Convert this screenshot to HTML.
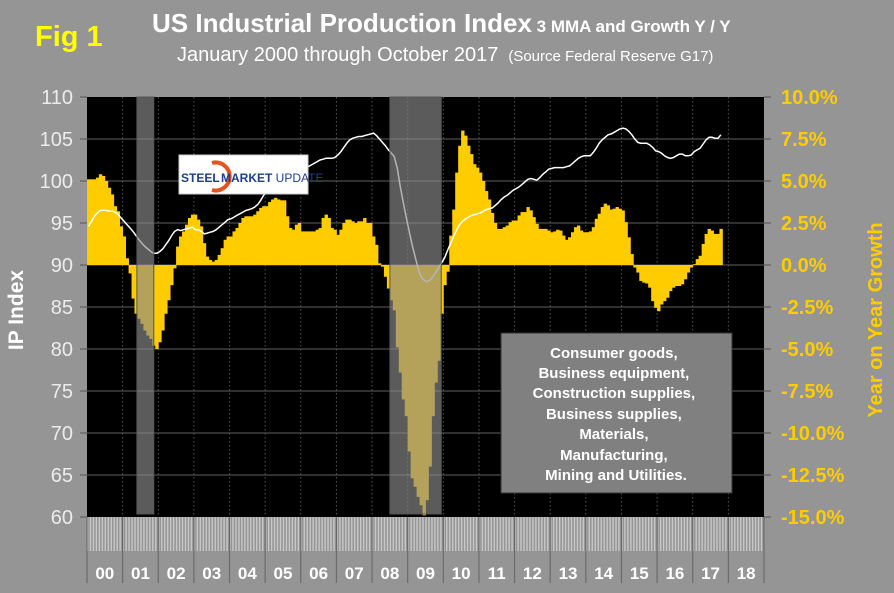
<!DOCTYPE html>
<html><head><meta charset="utf-8"><style>
body{margin:0;background:#959595;}
svg{display:block;font-family:"Liberation Sans",Arial,sans-serif;}
</style></head><body>
<svg id="chart" width="894" height="593" viewBox="0 0 894 593">
<rect x="0" y="0" width="894" height="593" fill="#959595"/>
<text x="35" y="46" fill="#ffff00" font-size="29" font-weight="bold">Fig 1</text>
<text x="152" y="32" fill="#ffffff" font-weight="bold"><tspan font-size="26">US Industrial Production Index</tspan><tspan font-size="17"> 3 MMA and Growth Y / Y</tspan></text>
<text x="177" y="61" fill="#ffffff"><tspan font-size="20">January 2000 through October 2017</tspan><tspan font-size="15" dx="10">(Source Federal Reserve G17)</tspan></text>
<rect x="87" y="97" width="677" height="420" fill="#000"/>
<g id="grid"></g>
<g id="bars"></g>
<g id="line"></g>
<g id="shade"></g>
<g id="axes"></g>
<g>
<rect x="179" y="155" width="129" height="39" fill="#fff" stroke="#ccc"/>
<path d="M212 163 A14 14 0 1 1 212 190" fill="none" stroke="#e8501c" stroke-width="4"/>
<text x="181" y="182" font-size="12" font-weight="bold" fill="#1d3f8c">STEEL</text>
<text x="221" y="182" font-size="12" fill="#1d3f8c"><tspan font-weight="bold">MARKET</tspan> UPDATE</text>
</g>
<g>
<rect x="501" y="333" width="231" height="160" fill="#808080" stroke="#333" stroke-width="1"/>
<text x="616" y="358" text-anchor="middle" fill="#fff" font-size="15" font-weight="bold">
<tspan x="616" y="358">Consumer goods,</tspan>
<tspan x="616" y="378">Business equipment,</tspan>
<tspan x="616" y="398">Construction supplies,</tspan>
<tspan x="616" y="419">Business supplies,</tspan>
<tspan x="616" y="439">Materials,</tspan>
<tspan x="616" y="460">Manufacturing,</tspan>
<tspan x="616" y="480">Mining and Utilities.</tspan>
</text>
</g>
<text transform="translate(23,310) rotate(-90)" text-anchor="middle" fill="#fff" font-size="21" font-weight="bold">IP Index</text>
<text transform="translate(882,320) rotate(-90)" text-anchor="middle" fill="#ffcc00" font-size="20" font-weight="bold">Year on Year Growth</text>
</svg>
<script>
const yearLabels=["00","01","02","03","04","05","06","07","08","09","10","11","12","13","14","15","16","17","18"];
const leftTicks=[60,65,70,75,80,85,90,95,100,105,110];
const rightTicks=[-15,-12.5,-10,-7.5,-5,-2.5,0,2.5,5,7.5,10];
const recessions=[[16.8,22.5],[102,119.3]];
const growth=[
5.1,5.1,5.1,5.2,5.4,5.3,5.0,4.6,4.2,3.5,3.2,2.3,
1.7,0.4,-0.5,-2.0,-2.9,-3.2,-3.5,-3.9,-4.2,-4.4,-4.8,-5.0,
-4.6,-3.9,-2.9,-2.1,-1.2,-0.2,1.1,1.7,2.0,2.4,2.8,3.0,
3.0,2.7,2.3,1.3,0.5,0.3,0.2,0.3,0.6,1.0,1.5,1.7,
1.7,2.0,2.2,2.5,2.8,2.9,2.9,2.9,3.0,3.2,3.4,3.5,
3.5,3.75,3.9,4.0,3.9,3.85,3.85,2.9,2.2,2.1,2.4,2.5,
2.0,2.0,2.0,2.0,2.0,2.1,2.2,2.8,3.0,2.8,2.2,2.1,
1.8,2.1,2.5,2.7,2.7,2.6,2.5,2.6,2.6,2.8,2.5,2.5,
1.7,1.2,0.1,-0.1,-0.7,-1.4,-2.1,-2.7,-4.9,-6.4,-8.0,-9.0,
-11.1,-12.7,-13.2,-13.8,-14.3,-14.9,-14.0,-12.0,-9.0,-7.0,-5.7,-2.9,
-1.2,-0.4,1.75,3.3,5.5,7.1,8.0,7.7,7.1,6.6,6.0,5.8,
5.5,5.0,4.4,3.9,3.1,2.5,2.15,2.15,2.25,2.35,2.55,2.65,
2.65,2.95,3.15,3.15,3.45,3.25,2.85,2.45,2.15,2.15,2.15,2.05,
1.95,2.0,2.1,2.05,1.75,1.5,1.65,1.95,2.25,2.35,2.05,1.95,
1.95,2.0,2.25,2.75,3.05,3.45,3.65,3.55,3.3,3.35,3.45,3.35,
3.25,2.55,1.65,0.65,-0.15,-0.45,-0.95,-1.05,-1.1,-1.35,-2.15,-2.55,
-2.75,-2.35,-2.15,-1.95,-1.55,-1.35,-1.25,-1.25,-1.15,-0.85,-0.45,-0.15,
0.05,0.35,0.55,1.25,1.85,2.15,2.05,1.85,1.85,2.15];
const ipIndex=[
94.6,95.2,95.8,96.2,96.5,96.5,96.5,96.4,96.4,96.3,96.0,95.6,
95.2,94.8,94.4,94.0,93.5,93.0,92.6,92.2,91.9,91.6,91.4,91.4,
91.6,91.9,92.4,92.9,93.5,94.0,94.2,94.1,94.2,94.3,94.4,94.5,
94.2,94.2,94.0,93.7,93.8,93.9,94.0,94.2,94.5,94.8,95.1,95.4,
95.5,95.7,95.9,96.1,96.3,96.5,96.6,96.7,96.9,97.2,97.7,98.3,
98.7,99.2,99.5,99.8,100.1,100.4,100.6,100.7,100.8,101.0,101.2,101.4,
101.5,101.6,101.7,101.9,102.1,102.3,102.5,102.6,102.7,102.7,102.7,102.8,
103.1,103.5,104.0,104.5,104.9,105.1,105.2,105.3,105.3,105.4,105.5,105.6,
105.7,105.4,105.0,104.6,104.2,103.7,103.3,102.9,101.5,99.3,97.5,95.7,
94.0,92.4,91.0,89.6,88.6,88.2,88.0,88.2,88.6,89.2,89.7,90.3,
90.9,91.8,92.6,93.4,94.2,94.8,95.2,95.5,95.7,95.9,96.0,96.1,
96.2,96.4,96.6,96.7,96.8,97.1,97.4,97.8,98.1,98.3,98.6,98.9,
99.1,99.3,99.6,99.9,100.2,100.3,100.2,100.1,100.4,100.8,101.1,101.4,
101.5,101.6,101.6,101.6,101.6,101.7,101.8,102.1,102.4,102.7,102.9,103.0,
103.0,103.0,103.4,103.9,104.5,104.9,105.2,105.5,105.6,105.8,106.0,106.2,
106.3,106.2,105.9,105.5,105.0,104.6,104.5,104.5,104.5,104.3,104.0,103.6,
103.5,103.3,103.0,102.8,102.7,102.8,103.0,103.2,103.2,103.0,103.0,103.1,
103.5,103.7,103.9,104.4,104.9,105.2,105.2,105.1,105.1,105.5];

const NS="http://www.w3.org/2000/svg";
const X0=87,X1=764,Y0=97,Y1=517,MONTHS=228;
const mw=(X1-X0)/MONTHS;
function xM(i){return X0+i*mw;}
function yL(v){return Y1-(v-60)/50*(Y1-Y0);}
function yR(g){return Y1-(g+15)/25*(Y1-Y0);}
function mk(tag,attrs,parent){const e=document.createElementNS(NS,tag);for(const k in attrs)e.setAttribute(k,attrs[k]);parent.appendChild(e);return e;}
const grid=document.getElementById('grid'),bars=document.getElementById('bars'),line=document.getElementById('line'),shade=document.getElementById('shade'),axes=document.getElementById('axes');
leftTicks.forEach((v,k)=>{
  const y=yL(v);
  if(k>0&&k<leftTicks.length-1){const l=mk('line',{x1:X0,x2:X1,y1:y,y2:y,stroke:'#404040','stroke-width':1.5},grid);
  
  }
  const t=mk('text',{x:73,y:y+7,'text-anchor':'end',fill:'#ececec','font-size':20},axes);t.textContent=v;
  
  
  mk('line',{x1:80,x2:X0,y1:y,y2:y,stroke:'#555'},axes);
});
rightTicks.forEach(g=>{
  const y=yR(g);
  const t=mk('text',{x:781,y:y+7,fill:'#ffcc00','font-size':20,'font-weight':'bold'},axes);t.textContent=g.toFixed(1)+'%';
  
  
  mk('line',{x1:X1,x2:X1+7,y1:y,y2:y,stroke:'#555'},axes);
});
for(let yr=1;yr<yearLabels.length;yr++){
  const x=xM(yr*12);
  const l=mk('line',{x1:x,x2:x,y1:Y0,y2:Y1,stroke:'#555','stroke-dasharray':'1.5,2.5'},grid);
  
  
}
growth.forEach((g,i)=>{
  const x=xM(i),y0=yR(0),y=yR(g);
  const r=mk('rect',{x:x,y:Math.min(y,y0),width:mw+0.4,height:Math.max(0.5,Math.abs(y-y0)),fill:'#ffcc00'},bars);
  
  
});
const pts=ipIndex.map((v,i)=>xM(i+0.5).toFixed(1)+','+yL(v).toFixed(1)).join(' ');
const pl=mk('polyline',{points:pts,fill:'none',stroke:'#fff','stroke-width':1.5},line);


recessions.forEach(r=>{
  const x0=xM(r[0]),x1=xM(r[1]);
  const s=mk('rect',{x:x0,y:Y0,width:x1-x0,height:Y1-Y0-3,fill:'rgb(140,140,140)','fill-opacity':0.65,stroke:'#555'},shade);
  
  
});
for(let i=0;i<MONTHS;i++){
  const x=xM(i)+0.5;
  mk('line',{x1:x,x2:x,y1:Y1,y2:551,stroke:'#c8c8c8','stroke-width':1.4},axes);
}
yearLabels.forEach((lab,k)=>{
  const x=xM(k*12);
  mk('line',{x1:x,x2:x,y1:Y1,y2:583,stroke:'#6a6a6a','stroke-width':1.2},axes);
  const t=mk('text',{x:x+mw*6,y:579,'text-anchor':'middle',fill:'#fff','font-size':17,'font-weight':'bold'},axes);t.textContent=lab;
  
  
});
mk('line',{x1:X1,x2:X1,y1:Y1,y2:583,stroke:'#6a6a6a','stroke-width':1.2},axes);
</script>
</body></html>
